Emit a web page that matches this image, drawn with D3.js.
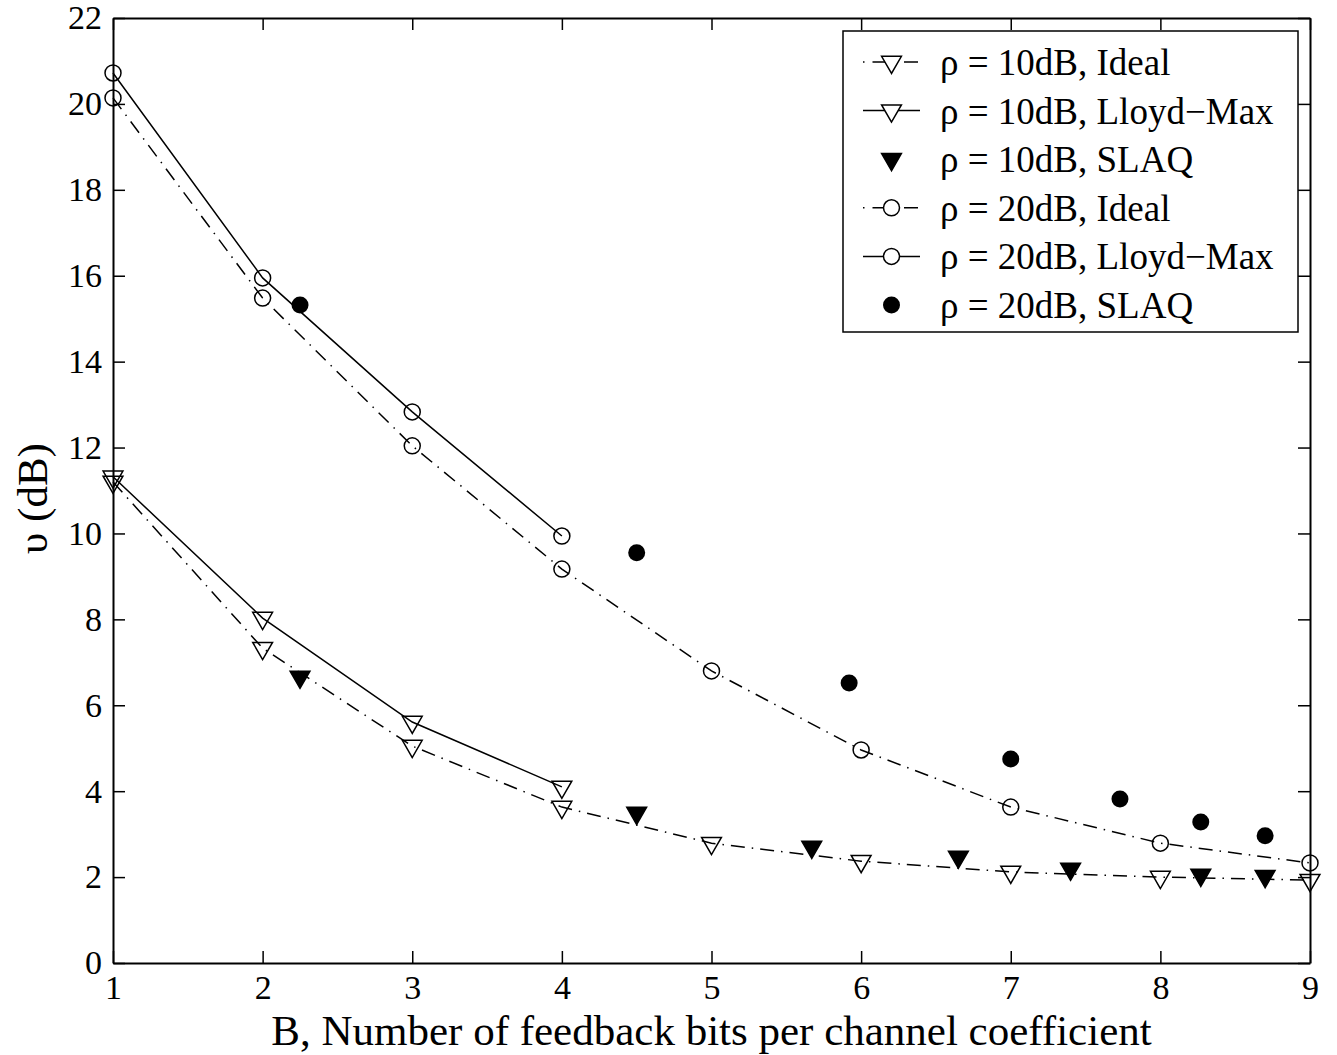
<!DOCTYPE html>
<html>
<head>
<meta charset="utf-8">
<script src="https://cdn.jsdelivr.net/npm/d3@7"></script>
<style>
  body { margin: 0; background: #fff; }
  text { font-family: "Liberation Serif", "Times New Roman", serif; fill: #000; }
</style>
</head>
<body>
<svg id="chart"></svg>
<script>
// data
const bits = [1, 2, 3, 4, 5, 6, 7, 8, 9];
const bitsLM = [1, 2, 3, 4];

const ideal10 = [11.2, 7.33, 5.05, 3.63, 2.79, 2.37, 2.12, 2.0, 1.93];
const lloyd10 = [11.32, 8.03, 5.61, 4.10];
const slaq10x = [2.25, 4.5, 5.67, 6.65, 7.4, 8.27, 8.7];
const slaq10y = [6.66, 3.49, 2.70, 2.47, 2.19, 2.05, 2.02];

const ideal20 = [20.14, 15.48, 12.04, 9.17, 6.80, 4.96, 3.63, 2.79, 2.33];
const lloyd20 = [20.72, 15.95, 12.83, 9.94];
const slaq20x = [2.25, 4.5, 5.92, 7.0, 7.73, 8.27, 8.7];
const slaq20y = [15.32, 9.55, 6.52, 4.75, 3.82, 3.28, 2.96];

const xTicks = [1, 2, 3, 4, 5, 6, 7, 8, 9];
const yTicks = [0, 2, 4, 6, 8, 10, 12, 14, 16, 18, 20, 22];

const legendLabels = [
  "ρ = 10dB, Ideal",
  "ρ = 10dB, Lloyd−Max",
  "ρ = 10dB, SLAQ",
  "ρ = 20dB, Ideal",
  "ρ = 20dB, Lloyd−Max",
  "ρ = 20dB, SLAQ"
];

const svgWidth = 1337;
const svgHeight = 1055;
const margin = { top: 18, right: 27, bottom: 92, left: 113 };
const width = svgWidth - margin.left - margin.right;
const height = svgHeight - margin.top - margin.bottom;

const svg = d3.select("#chart").attr("width", svgWidth).attr("height", svgHeight);
const g = svg.append("g").attr("transform", `translate(${margin.left},${margin.top})`);

const xScale = d3.scaleLinear().domain([1, 9]).range([0, width]);
const yScale = d3.scaleLinear().domain([0, 22]).range([height, 0]);

const dashDot = "14,7,1.5,7";

// axes: ticks inside, on all four sides (matlab box)
const tickLen = 12;
const axB = g.append("g").attr("transform", `translate(0,${height})`)
  .call(d3.axisBottom(xScale).tickValues(xTicks).tickSizeInner(-tickLen).tickSizeOuter(0).tickPadding(12));
const axT = g.append("g")
  .call(d3.axisTop(xScale).tickValues(xTicks).tickSizeInner(-tickLen).tickSizeOuter(0).tickFormat(""));
const axL = g.append("g")
  .call(d3.axisLeft(yScale).tickValues(yTicks).tickSizeInner(-tickLen).tickSizeOuter(0).tickPadding(11));
const axR = g.append("g").attr("transform", `translate(${width},0)`)
  .call(d3.axisRight(yScale).tickValues(yTicks).tickSizeInner(-tickLen).tickSizeOuter(0).tickFormat(""));

[axB, axT, axL, axR].forEach((a) => {
  a.selectAll("path").attr("stroke", "#000").attr("stroke-width", 2);
  a.selectAll("line").attr("stroke", "#000").attr("stroke-width", 1.5);
  a.selectAll("text").style("font-size", "34px").attr("fill", "#000");
});
axB.selectAll("text").attr("dy", "0.71em");

// line generators
const lineGen = (xs) => d3.line().x((d, i) => xScale(xs[i])).y((d) => yScale(d));

const drawLine = (xs, ys, dash) => {
  g.append("path")
    .datum(ys)
    .attr("d", lineGen(xs))
    .attr("fill", "none")
    .attr("stroke", "#000")
    .attr("stroke-width", 1.5)
    .attr("stroke-dasharray", dash);
};

drawLine(bits, ideal10, dashDot);
drawLine(bitsLM, lloyd10, null);
drawLine(bits, ideal20, dashDot);
drawLine(bitsLM, lloyd20, null);

const triSym = d3.symbol().type(d3.symbolTriangle).size(170);

const drawTri = (xs, ys, filled) => {
  g.selectAll(null)
    .data(ys)
    .enter()
    .append("path")
    .attr("d", triSym)
    .attr("transform", (d, i) => `translate(${xScale(xs[i])},${yScale(d)}) rotate(180)`)
    .attr("fill", filled ? "#000" : "none")
    .attr("stroke", "#000")
    .attr("stroke-width", 1.5);
};

const drawCirc = (xs, ys, filled) => {
  g.selectAll(null)
    .data(ys)
    .enter()
    .append("circle")
    .attr("cx", (d, i) => xScale(xs[i]))
    .attr("cy", (d) => yScale(d))
    .attr("r", filled ? 8.5 : 8)
    .attr("fill", filled ? "#000" : "none")
    .attr("stroke", "#000")
    .attr("stroke-width", filled ? 0 : 1.5);
};

drawTri(bits, ideal10, false);
drawTri(bitsLM, lloyd10, false);
drawTri(slaq10x, slaq10y, true);
drawCirc(bits, ideal20, false);
drawCirc(bitsLM, lloyd20, false);
drawCirc(slaq20x, slaq20y, true);

// axis labels
svg.append("text")
  .attr("text-anchor", "middle")
  .attr("x", margin.left + width / 2)
  .attr("y", 1045)
  .style("font-size", "43px")
  .text("B, Number of feedback bits per channel coefficient");

svg.append("text")
  .attr("text-anchor", "middle")
  .attr("transform", `translate(32, ${margin.top + height / 2 + 8}) rotate(-90)`)
  .attr("dy", "0.35em")
  .style("font-size", "43px")
  .text("υ (dB)");

// legend
const legend = svg.append("g").attr("transform", "translate(843,31)");
legend.append("rect")
  .attr("width", 455)
  .attr("height", 301)
  .attr("fill", "#fff")
  .attr("stroke", "#000")
  .attr("stroke-width", 1.5);

const legendStyle = [
  { dash: dashDot, line: true, shape: "tri", filled: false },
  { dash: null, line: true, shape: "tri", filled: false },
  { dash: null, line: false, shape: "tri", filled: true },
  { dash: dashDot, line: true, shape: "circ", filled: false },
  { dash: null, line: true, shape: "circ", filled: false },
  { dash: null, line: false, shape: "circ", filled: true }
];

legendLabels.forEach((label, i) => {
  const ry = 31 + i * 48.6;
  const s = legendStyle[i];
  if (s.line) {
    legend.append("line")
      .attr("x1", 20).attr("x2", 77)
      .attr("y1", ry).attr("y2", ry)
      .attr("stroke", "#000")
      .attr("stroke-width", 1.5)
      .attr("stroke-dasharray", s.dash ? "1.5,8,14,8" : null);
  }
  if (s.shape === "tri") {
    legend.append("path")
      .attr("d", triSym)
      .attr("transform", `translate(48.5,${ry}) rotate(180)`)
      .attr("fill", s.filled ? "#000" : "#fff")
      .attr("stroke", "#000")
      .attr("stroke-width", 1.5);
  } else {
    legend.append("circle")
      .attr("cx", 48.5).attr("cy", ry)
      .attr("r", s.filled ? 8.5 : 8)
      .attr("fill", s.filled ? "#000" : "#fff")
      .attr("stroke", "#000")
      .attr("stroke-width", s.filled ? 0 : 1.5);
  }
  legend.append("text")
    .attr("x", 97)
    .attr("y", ry)
    .attr("dy", "0.35em")
    .style("font-size", "37px")
    .text(label);
});
</script>
</body>
</html>
